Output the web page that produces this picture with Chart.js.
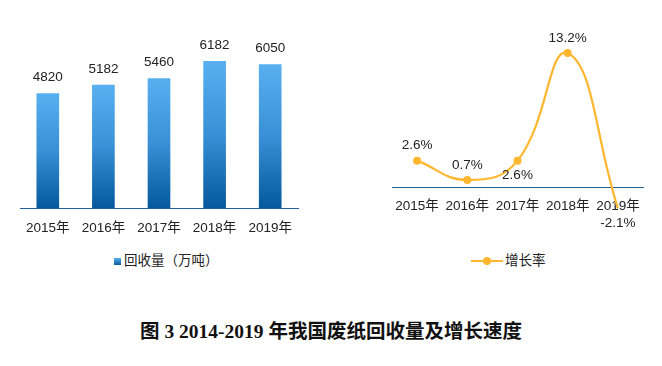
<!DOCTYPE html>
<html>
<head>
<meta charset="utf-8">
<script src="https://cdn.jsdelivr.net/npm/chart.js@4.4.1/dist/chart.umd.min.js"></script>
<style>
body{margin:0;background:#fff;width:662px;height:366px;position:relative;overflow:hidden;font-family:"Liberation Sans","Noto Sans CJK SC",sans-serif;color:#222}
canvas{position:absolute;top:0}
#bars{left:0}
#rate{left:340px}
.leg{position:absolute;top:253px;height:16px;font-size:13.5px;line-height:16px;display:flex;align-items:center}
.sq{width:7px;height:7px;margin-right:3px;background:linear-gradient(#58b0f0,#0a5c9e)}
.ln{position:relative;width:32px;height:2px;background:#ffb730;margin-right:2px}
.ln i{position:absolute;left:12px;top:-3px;width:8px;height:8px;border-radius:50%;background:#ffb730}
#title{position:absolute;left:0;width:662px;top:320px;text-align:center;font:bold 19.5px/24px "Liberation Serif","Noto Sans CJK SC",serif;color:#111}
</style>
</head>
<body>
<canvas id="bars" width="320" height="250"></canvas>
<canvas id="rate" width="322" height="250"></canvas>
<div class="leg" style="left:114px"><span class="sq"></span>回收量（万吨）</div>
<div class="leg" style="left:471px"><span class="ln"><i></i></span>增长率</div>
<div id="title">图 3 2014-2019 年我国废纸回收量及增长速度</div>
<script>
const years=['2015年','2016年','2017年','2018年','2019年'];
const recycled=[4820,5182,5460,6182,6050];   // 万吨
const growth=[2.6,0.7,2.6,13.2,-2.1];        // %
const growthLabelBelow=[false,false,true,false,true];

const FONT='"Liberation Sans","Noto Sans CJK SC",sans-serif';
const AXIS='#2461a0';

// draw value labels above/below each mark
const valueLabels={
  id:'valueLabels',
  afterDatasetsDraw(chart,args,o){
    const ctx=chart.ctx;
    ctx.save();
    ctx.font='13.5px '+FONT;ctx.fillStyle='#222';ctx.textAlign='center';ctx.textBaseline='middle';
    chart.getDatasetMeta(0).data.forEach((el,i)=>{
      const below=o.below&&o.below[i];
      ctx.fillText(o.text[i],el.x,el.y+(below?o.gap:-o.gap));
    });
    ctx.restore();
  }
};

function xAxis(h,pad){
  return {
    offset:true,
    grid:{display:true,drawOnChartArea:false,drawTicks:false,offset:true},
    border:{display:true,color:AXIS,width:1},
    ticks:{color:'#222',font:{size:13.5,family:FONT},padding:pad,autoSkip:false,maxRotation:0},
    afterFit:s=>{s.height=h;}
  };
}

Chart.defaults.animation=false;

new Chart(document.getElementById('bars'),{
  type:'bar',
  data:{labels:years,datasets:[{
    label:'回收量（万吨）',
    data:recycled,
    barThickness:22,
    backgroundColor:c=>{
      const ch=c.chart;
      if(!ch.chartArea||c.type!=='data')return '#3a92d8';
      const y=ch.scales.y;
      const g=ch.ctx.createLinearGradient(0,y.getPixelForValue(c.raw),0,y.getPixelForValue(0));
      g.addColorStop(0,'#58b0f0');g.addColorStop(0.5,'#3990d6');g.addColorStop(1,'#05599c');
      return g;
    }
  }]},
  options:{
    responsive:false,
    layout:{padding:{left:20,right:22,top:42,bottom:0}},
    plugins:{legend:{display:false},tooltip:{enabled:false},
      valueLabels:{text:recycled.map(String),gap:16}},
    scales:{
      x:xAxis(42,12),
      y:{display:false,min:0,max:7000}
    }
  },
  plugins:[valueLabels]
});

new Chart(document.getElementById('rate'),{
  type:'line',
  data:{labels:years,datasets:[{
    label:'增长率',
    data:growth,
    clip:false,
    tension:0.45,
    borderColor:'#ffb730',
    borderWidth:2.2,
    pointRadius:4,
    pointBorderWidth:0,
    pointBackgroundColor:'#ffb730'
  }]},
  options:{
    responsive:false,
    layout:{padding:{left:52,right:19,top:45,bottom:0}},
    plugins:{legend:{display:false},tooltip:{enabled:false},
      valueLabels:{text:growth.map(v=>v+'%'),below:growthLabelBelow,gap:15}},
    scales:{
      x:xAxis(63,11),
      y:{display:false,min:0,max:14}
    }
  },
  plugins:[valueLabels]
});
</script>
</body>
</html>
